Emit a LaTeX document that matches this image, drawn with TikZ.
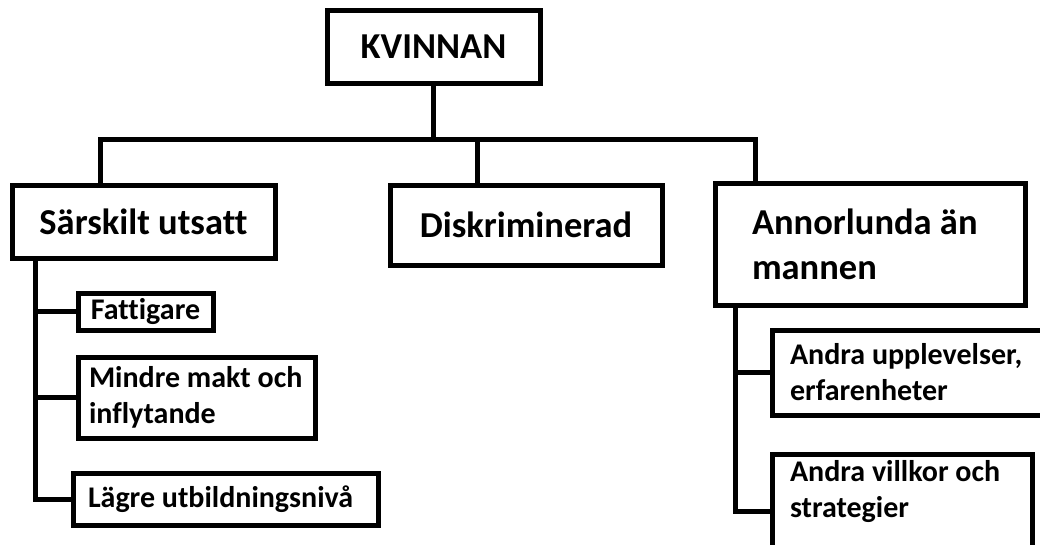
\documentclass[tikz,border=0pt]{standalone}
\usepackage{fontspec}
\setmainfont{Carlito}[Ligatures=CommonOff]
\usepackage{tikz}

\begin{document}
\begin{tikzpicture}[x=1pt,y=-1pt,
  box/.style={draw,line width=5pt,inner sep=0pt,font=\bfseries\fontsize{36.5}{45}\selectfont},
  smallbox/.style={box,align=flush left,font=\bfseries\fontsize{30}{36}\selectfont},
  link/.style={line width=5pt}]
\useasboundingbox (0,0) rectangle (1040,544);
\node[box,minimum width=213pt,minimum height=73pt] (kv) at (433.5,46.5) {KVINNAN};
\node[box,minimum width=263pt,minimum height=73pt] (sar) at (143.5,221.5) {Särskilt utsatt};
\node[box,minimum width=272pt,minimum height=80pt] (dis) at (526,225) {Diskriminerad};
\node[box,align=flush left,text width=236pt,minimum width=310pt,minimum height=122pt] (ann) at (870,244) {Annorlunda än\\mannen};
\node[smallbox,minimum width=135pt,minimum height=37pt] (fat) at (145.5,311.5) {Fattigare};
\node[smallbox,text width=215pt,minimum width=237pt,minimum height=81pt] (min) at (196.5,397.5) {Mindre makt och\\inflytande};
\node[smallbox,text width=275pt,minimum width=305pt,minimum height=52pt] (lag) at (225.5,499) {Lägre utbildningsnivå};
\node[smallbox,text width=244pt,minimum width=280pt,minimum height=85pt] (upp) at (912,372.5) {Andra upplevelser,\\erfarenheter};
\node[smallbox,anchor=north,text width=224pt,minimum width=260pt,inner ysep=6pt] (vil) at (902,452) {Andra villkor och\\strategier\rule[-44pt]{0pt}{0pt}};
\coordinate (barL) at (100,139);
\coordinate (barM) at (477,139);
\coordinate (barR) at (755,139);
\coordinate (spineL) at (35,0);
\coordinate (spineR) at (735,0);
\draw[link] (kv.south) -- (kv.south |- barL);
\draw[link] (sar.north -| barL) -- (barL) -- (barR) -- (ann.north -| barR);
\draw[link] (barM) -- (dis.north -| barM);
\draw[link] (sar.south -| spineL) |- (lag.west);
\draw[link] (fat.west -| spineL) -- (fat.west);
\draw[link] (min.west -| spineL) -- (min.west);
\draw[link] (ann.south -| spineR) |- (vil.west);
\draw[link] (upp.west -| spineR) -- (upp.west);
\end{tikzpicture}
\end{document}
